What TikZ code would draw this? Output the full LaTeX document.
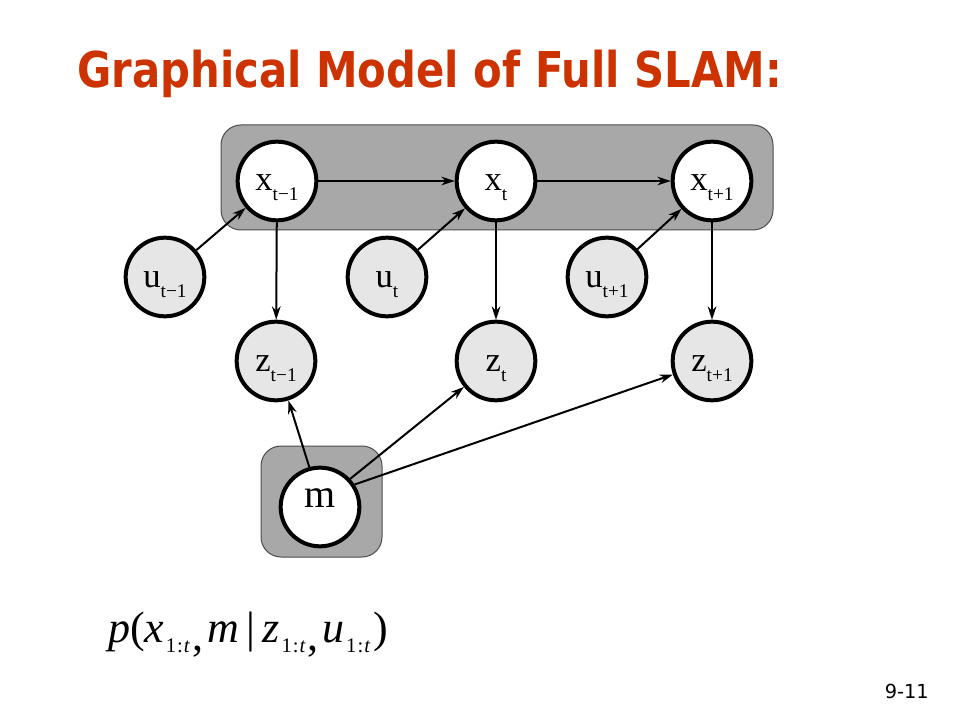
\documentclass[tikz,border=0pt]{standalone}
\usepackage{graphicx}
\usepackage{fontspec}
\setmainfont{Liberation Serif}
\newfontfamily\titlefont{DejaVu Sans}
\usetikzlibrary{arrows.meta}
\definecolor{titlered}{RGB}{204,51,0}
\definecolor{plategray}{RGB}{168,168,168}
\definecolor{nodegray}{RGB}{230,230,230}
\newcommand{\slamlbl}[2]{{\fontsize{26}{26}\selectfont #1}\raisebox{-7.5pt}{\fontsize{14.5}{14.5}\selectfont #2}}
\newcommand{\formsub}[1]{\raisebox{-8pt}{\fontsize{15.5}{15.5}\selectfont 1\kern0.8pt:\kern0.8pt\textit{#1}}}
\begin{document}
\begin{tikzpicture}[x=0.75pt, y=-0.75pt,
    statenode/.style={circle, draw, line width=3pt, minimum size=59pt, inner sep=0pt, fill=white, text height=23pt, text depth=8pt},
    obsnode/.style={statenode, fill=nodegray},
    arr/.style={-{Stealth[length=10pt, width=6.5pt]}, line width=1.5pt},
    plate/.style={draw=black!70, line width=0.75pt, fill=plategray, rounded corners=15pt}]
  \useasboundingbox (0,0) rectangle (960,720);
  % title
  \node [anchor=base west, inner sep=0pt, text=titlered, font=\titlefont\bfseries\fontsize{37}{37}\selectfont] (title) at (77,88) {\scalebox{0.847}[1]{Graphical Model of Full SLAM:}};
  % plates
  \draw [plate] (221,125) rectangle (773,230);
  \draw [plate] (261,446) rectangle (382,557);
  % poses
  \node [statenode] (xp) at (277,181) {\slamlbl{x}{t−1}};
  \node [statenode] (xc) at (496,181) {\slamlbl{x}{t}};
  \node [statenode] (xn) at (712,181) {\slamlbl{x}{t+1}};
  % controls
  \node [obsnode] (up) at (165,277) {\slamlbl{u}{t−1}};
  \node [obsnode] (uc) at (387,277) {\slamlbl{u}{t}};
  \node [obsnode] (un) at (607,277) {\slamlbl{u}{t+1}};
  % measurements
  \node [obsnode] (zp) at (276,361) {\slamlbl{z}{t−1}};
  \node [obsnode] (zc) at (496,361) {\slamlbl{z}{t}};
  \node [obsnode] (zn) at (712,361) {\slamlbl{z}{t+1}};
  % map
  \node [statenode, text height=10pt, text depth=10pt] (m) at (320,507) {\fontsize{30}{30}\selectfont m};
  % edges
  \draw [arr] (xp) -- (xc);
  \draw [arr] (xc) -- (xn);
  \draw [arr] (up) -- (xp);
  \draw [arr] (uc) -- (xc);
  \draw [arr] (un) -- (xn);
  \draw [arr] (xp) -- (zp);
  \draw [arr] (xc) -- (zc);
  \draw [arr] (xn) -- (zn);
  \draw [arr] (m.105) -- (zp);
  \draw [arr] (m.43) -- (zc);
  \draw [arr] (m.33) -- (zn);
  % posterior
  \node [anchor=base west, inner sep=0pt, font=\fontsize{33}{33}\selectfont] (post) at (108,642)
    {\textit{p}(\textit{x}\kern1pt\formsub{t}\kern1.5pt\raisebox{-6pt}{,}\kern3pt\textit{m}\kern6pt|\kern5pt\textit{z}\kern1.5pt\formsub{t}\kern1.5pt\raisebox{-6pt}{,}\kern3pt\textit{u}\kern1pt\formsub{t}\kern2pt)};
  % page number
  \node [anchor=base east, inner sep=0pt, font=\titlefont\fontsize{14.5}{14.5}\selectfont] (page) at (929,698) {9-11};
\end{tikzpicture}
\end{document}
